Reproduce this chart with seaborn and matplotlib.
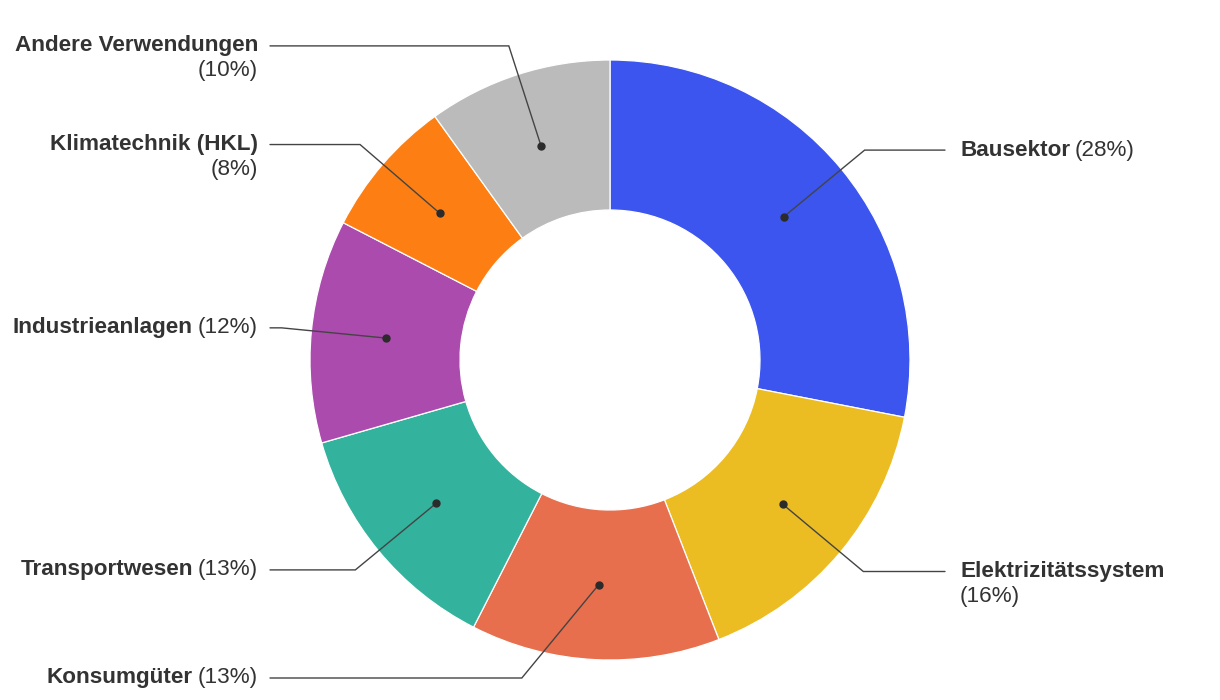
import numpy as np
import matplotlib
matplotlib.use("Agg")
import matplotlib.pyplot as plt
import seaborn as sns

### Data (shares in %, clockwise from 12 o'clock)

categories = ["Bausektor", "Elektrizitätssystem", "Konsumgüter", "Transportwesen",
              "Industrieanlagen", "Klimatechnik (HKL)", "Andere Verwendungen"]
shares = [28, 16, 13.4, 13, 12, 7.5, 9.9]
colors = ["#3b55ee", "#ebbd23", "#e76f4e", "#33b39d", "#ab4bad", "#fd7f13", "#bbbbbb"]


### Style

sns.set_theme(style="white")
plt.rcParams["font.family"] = ["Liberation Sans", "DejaVu Sans"]

W, H = 1220, 700
fig = plt.figure(figsize=(W / 100, H / 100), dpi=100)
ax = fig.add_axes([0, 0, 1, 1])

# layout in pixels (y measured from top)
cx, cy = 610, 360
r_out, r_in = 300, 150
r_dot, r_elbow = 225, 330
x_line = {1: 945, -1: 270}
x_text = {1: 960, -1: 258}
y_min, y_max = 40, 678
line_gap = 25
fs = 16.2
txt_col = "#333333"
lead_col = "#444444"


def Y(y):
    return H - y


ax.pie(shares, colors=sns.color_palette(colors), startangle=90, counterclock=False,
       center=(cx, Y(cy)), radius=r_out,
       wedgeprops=dict(width=r_out - r_in, edgecolor="white", linewidth=0.9))
ax.set_xlim(0, W)
ax.set_ylim(0, H)
ax.set_aspect("equal")
ax.axis("off")

renderer = fig.canvas.get_renderer()


def text_width(t):
    return t.get_window_extent(renderer=renderer).width


total = sum(shares)
cum = np.cumsum([0] + shares)
for i, (name, val) in enumerate(zip(categories, shares)):
    theta = np.deg2rad((cum[i] + val / 2) / total * 360)
    side = 1 if np.sin(theta) >= 0 else -1

    # dot on ring middle
    dx, dy = cx + r_dot * np.sin(theta), cy - r_dot * np.cos(theta)
    # elbow on outer circle, y clamped
    ey = np.clip(cy - r_elbow * np.cos(theta), y_min, y_max)
    ex = cx + side * np.sqrt(max(r_elbow ** 2 - (ey - cy) ** 2, 0))

    ax.plot([dx, ex, x_line[side]], [Y(dy), Y(ey), Y(ey)], color=lead_col, lw=1.0,
            solid_joinstyle="miter", zorder=3)
    ax.plot(dx, Y(dy), "o", color="#2b2b2b", ms=5, zorder=4)

    pct = f"({round(val / total * 100)}%)"
    tx = x_text[side]
    ha = "left" if side > 0 else "right"
    if len(name) + len(pct) + 1 > 22:
        ax.text(tx, Y(ey), name, ha=ha, va="center", fontsize=fs, fontweight="bold", color=txt_col)
        ax.text(tx, Y(ey + line_gap), pct, ha=ha, va="center", fontsize=fs, color=txt_col)
    elif side > 0:
        t = ax.text(tx, Y(ey), name, ha="left", va="center", fontsize=fs, fontweight="bold", color=txt_col)
        ax.text(tx + text_width(t) + 5, Y(ey), pct, ha="left", va="center", fontsize=fs, color=txt_col)
    else:
        t = ax.text(tx, Y(ey), pct, ha="right", va="center", fontsize=fs, color=txt_col)
        ax.text(tx - text_width(t) - 5, Y(ey), name, ha="right", va="center", fontsize=fs,
                fontweight="bold", color=txt_col)

fig.savefig("out.png", dpi=100, facecolor="white")
